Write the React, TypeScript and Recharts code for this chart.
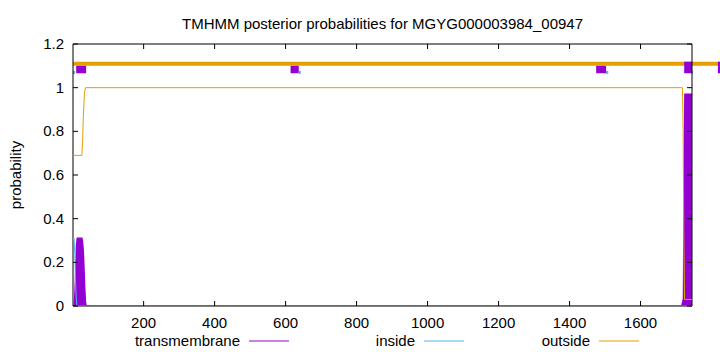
import React from 'react';
import { ComposedChart, Area, Line, XAxis, YAxis, ReferenceArea } from 'recharts';

// Posterior probability curves (residue position -> probability)
const tmPos = [1, 5, 8, 11, 13, 26, 28, 30, 32, 34, 36, 38, 1716, 1719, 1721, 1723, 1725, 1742, 1745];
const tmProb = [0, 0, 0.12, 0.28, 0.31, 0.31, 0.29, 0.25, 0.17, 0.08, 0.02, 0, 0, 0.02, 0.035, 0.6, 0.97, 0.97, 0.97];

const inPos = [1, 4, 6, 8, 10, 12, 1745];
const inProb = [0.31, 0.31, 0.24, 0.12, 0.04, 0, 0];

const outPos = [1, 26, 28, 30, 33, 36, 1718, 1720, 1722, 1724, 1745];
const outProb = [0.69, 0.69, 0.75, 0.86, 0.97, 1, 1, 0.8, 0.3, 0.03, 0.03];

// Topology track drawn above the curves
const outsideBand = [1, 1830];
const tmBoxStart = [10, 614, 1475, 1723, 1818];
const tmBoxEnd = [38, 637, 1503, 1745, 1830];
const tmBoxTop = [1.1, 1.1, 1.1, 1.119, 1.119];
const inBitStart = [1, 637, 1503, 1745];
const inBitEnd = [7, 643, 1509, 1748];

const X_TICKS = [200, 400, 600, 800, 1000, 1200, 1400, 1600];
const Y_TICKS = [0, 0.2, 0.4, 0.6, 0.8, 1, 1.2];
const X_DOMAIN = [1, 1745];
const Y_DOMAIN = [0, 1.2];

const TITLE = 'TMHMM posterior probabilities for MGYG000003984_00947';
const Y_LABEL = 'probability';
const LEGEND = ['transmembrane', 'inside', 'outside'];

const C_TM = '#9400D3';
const C_IN = '#56B4E9';
const C_OUT = '#E69F00';

const FONT = '"Liberation Sans", Arial, Helvetica, sans-serif';
const FS = 15;

const W = 720;
const H = 352;
const PLOT_TOP = 44;
const PLOT_BOTTOM = 306;
const PLOT_LEFT = 73;
const PLOT_RIGHT = 692;
const TICK = 5;

const tmData = tmPos.map((x, i) => ({ x, p: tmProb[i] }));
const inData = inPos.map((x, i) => ({ x, p: inProb[i] }));
const outData = outPos.map((x, i) => ({ x, p: outProb[i] }));

const XTick = (props: any) => {
  const { x, payload } = props;
  return (
    <g>
      <line x1={x} x2={x} y1={PLOT_BOTTOM} y2={PLOT_BOTTOM - TICK} stroke="#000" />
      <line x1={x} x2={x} y1={PLOT_TOP} y2={PLOT_TOP + TICK} stroke="#000" />
      <text x={x} y={PLOT_BOTTOM + 22} textAnchor="middle" fontSize={FS} fontFamily={FONT} fill="#000">
        {payload.value}
      </text>
    </g>
  );
};

const YTick = (props: any) => {
  const { y, payload } = props;
  return (
    <g>
      <line x1={PLOT_LEFT} x2={PLOT_LEFT + TICK} y1={y} y2={y} stroke="#000" />
      <line x1={PLOT_RIGHT - TICK} x2={PLOT_RIGHT} y1={y} y2={y} stroke="#000" />
      <text x={PLOT_LEFT - 9} y={y + 5} textAnchor="end" fontSize={FS} fontFamily={FONT} fill="#000">
        {String(payload.value)}
      </text>
    </g>
  );
};

const legendTextEnd = [240, 415, 590];
const legendColors = [C_TM, C_IN, C_OUT];

export default function App() {
  return (
    <div style={{ position: 'absolute', left: 0, top: 0, width: W, height: H, background: '#fff' }}>
      <ComposedChart
        width={W}
        height={H}
        margin={{ top: PLOT_TOP, right: W - PLOT_RIGHT, bottom: 0, left: 0 }}
      >
        <XAxis
          dataKey="x"
          type="number"
          domain={X_DOMAIN}
          ticks={X_TICKS}
          allowDataOverflow
          height={H - PLOT_BOTTOM}
          axisLine={false}
          tickLine={false}
          tickSize={0}
          tickMargin={0}
          tick={<XTick />}
          interval={0}
        />
        <YAxis
          type="number"
          domain={Y_DOMAIN}
          ticks={Y_TICKS}
          allowDataOverflow
          width={PLOT_LEFT}
          axisLine={false}
          tickLine={false}
          tickSize={0}
          tickMargin={0}
          tick={<YTick />}
          interval={0}
        />
        <Area
          data={tmData}
          dataKey="p"
          type="linear"
          stroke={C_TM}
          strokeWidth={1.5}
          fill={C_TM}
          fillOpacity={1}
          isAnimationActive={false}
          dot={false}
          activeDot={false}
        />
        <Line
          data={inData}
          dataKey="p"
          type="linear"
          stroke={C_IN}
          strokeWidth={1}
          dot={false}
          activeDot={false}
          isAnimationActive={false}
        />
        <Line
          data={outData}
          dataKey="p"
          type="linear"
          stroke={C_OUT}
          strokeWidth={1}
          dot={false}
          activeDot={false}
          isAnimationActive={false}
        />
        <ReferenceArea
          x1={outsideBand[0]}
          x2={outsideBand[1]}
          y1={1.1}
          y2={1.119}
          fill={C_OUT}
          fillOpacity={1}
          stroke="none"
          ifOverflow="visible"
        />
        {inBitStart.map((s, i) => (
          <ReferenceArea
            key={'in' + i}
            x1={s}
            x2={inBitEnd[i]}
            y1={1.063}
            y2={1.077}
            fill={C_IN}
            fillOpacity={1}
            stroke="none"
            ifOverflow="visible"
          />
        ))}
        {tmBoxStart.map((s, i) => (
          <ReferenceArea
            key={'tm' + i}
            x1={s}
            x2={tmBoxEnd[i]}
            y1={1.066}
            y2={tmBoxTop[i]}
            fill={C_TM}
            fillOpacity={1}
            stroke="none"
            ifOverflow="visible"
          />
        ))}
        <ReferenceArea
          x1={X_DOMAIN[0]}
          x2={X_DOMAIN[1]}
          y1={Y_DOMAIN[0]}
          y2={Y_DOMAIN[1]}
          fill="none"
          fillOpacity={0}
          stroke="#000"
          strokeWidth={1}
          ifOverflow="visible"
        />
      </ComposedChart>
      <svg
        width={W}
        height={H}
        style={{ position: 'absolute', left: 0, top: 0, pointerEvents: 'none' }}
      >
        <text x={(PLOT_LEFT + PLOT_RIGHT) / 2} y={29} textAnchor="middle" fontSize={FS} fontFamily={FONT} fill="#000">
          {TITLE}
        </text>
        <text
          x={21}
          y={(PLOT_TOP + PLOT_BOTTOM) / 2}
          textAnchor="middle"
          fontSize={FS}
          fontFamily={FONT}
          fill="#000"
          transform={`rotate(-90 21 ${(PLOT_TOP + PLOT_BOTTOM) / 2})`}
        >
          {Y_LABEL}
        </text>
        {LEGEND.map((name, i) => (
          <g key={name}>
            <text x={legendTextEnd[i]} y={346} textAnchor="end" fontSize={FS} fontFamily={FONT} fill="#000">
              {name}
            </text>
            <line
              x1={legendTextEnd[i] + 9}
              x2={legendTextEnd[i] + 49}
              y1={341}
              y2={341}
              stroke={legendColors[i]}
              strokeWidth={1}
            />
          </g>
        ))}
      </svg>
    </div>
  );
}
